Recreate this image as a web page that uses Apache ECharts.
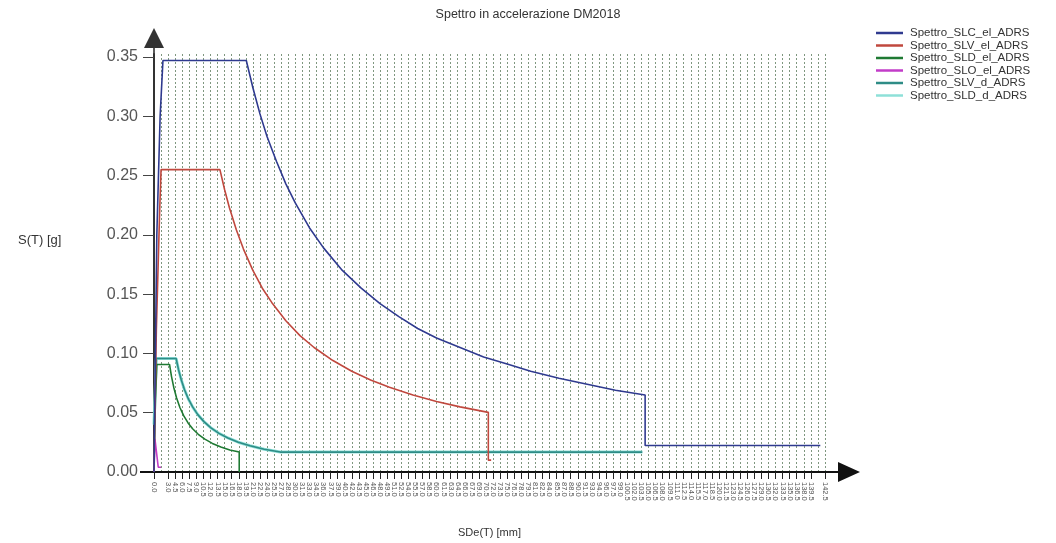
<!DOCTYPE html>
<html>
<head>
<meta charset="utf-8">
<script src="https://cdn.jsdelivr.net/npm/echarts@6/dist/echarts.min.js"></script>
<style>
html,body{margin:0;padding:0;background:#fff;}
#chart{width:1056px;height:543px;}
</style>
</head>
<body>
<div id="chart"></div>
<script>
// ---- data (x = SDe [mm], y = S [g]) ----
const chartTitle = "Spettro in accelerazione DM2018";
const xAxisName = "SDe(T) [mm]";
const yAxisName = "S(T) [g]";
const seriesNames = ["Spettro_SLC_el_ADRS","Spettro_SLV_el_ADRS","Spettro_SLD_el_ADRS","Spettro_SLO_el_ADRS","Spettro_SLV_d_ADRS","Spettro_SLD_d_ADRS"];
const seriesColors = ["#2f3a8f","#c0483e","#1f7a33","#c23cc8","#2e8c86","#8ee0d8"];

const slcEl = [[0,0],[0.6,0.20],[1.3,0.30],[1.9,0.347],[19.6,0.347],[21,0.324],[22.5,0.302],[24,0.283],[26,0.262],[28,0.243],[30,0.227],[33,0.206],[36,0.189],[40,0.170],[44,0.155],[48,0.142],[52,0.131],[56,0.121],[60,0.113],[65,0.105],[70,0.097],[75,0.091],[80,0.085],[86,0.079],[92,0.074],[98,0.069],[104.3,0.065],[104.3,0.0224],[141.5,0.0224]];
const slvEl = [[0,0],[0.5,0.12],[1.2,0.22],[1.5,0.255],[14.0,0.255],[15,0.238],[16,0.223],[17.5,0.204],[19,0.188],[21,0.170],[23,0.155],[25,0.143],[28,0.1275],[31,0.115],[34,0.105],[38,0.094],[42,0.085],[46,0.0776],[50,0.0714],[55,0.0649],[60,0.0595],[65,0.0549],[71.0,0.0503],[71.0,0.010],[71.6,0.010]];
const sldEl = [[0,0],[0.3,0.06],[0.6,0.0907],[3.3,0.0907],[3.7,0.0809],[4.2,0.0713],[4.8,0.0624],[5.5,0.0544],[6.3,0.0475],[7.2,0.0416],[8.2,0.0365],[9.4,0.0318],[10.8,0.0277],[12.4,0.0241],[14.2,0.0211],[16.1,0.0186],[18.1,0.0168],[18.1,0]];
const sloEl = [[0,0],[0.2,0.028],[0.5,0.028],[0.9,0.004],[1.5,0.004]];
const slvD = [[0,0.04],[0.5,0.0957],[4.7,0.0957],[5.2,0.0865],[5.8,0.0776],[6.5,0.0692],[7.3,0.0616],[8.2,0.0549],[9.3,0.0484],[10.6,0.0425],[12.1,0.0372],[13.8,0.0326],[15.7,0.0287],[17.9,0.0251],[20.4,0.0221],[23.4,0.0192],[26.8,0.0168],[103.7,0.0168]];
const sldD = [[0,0.04],[0.5,0.0957],[4.7,0.0957],[5.2,0.0865],[5.8,0.0776],[6.5,0.0692],[7.3,0.0616],[8.2,0.0549],[9.3,0.0484],[10.6,0.0425],[12.1,0.0372],[13.8,0.0326],[15.7,0.0287],[17.9,0.0251],[20.4,0.0221],[23.4,0.0192],[26.8,0.0168],[103.7,0.0168]];

const xTickStep = 1.5;
const xTickLabels = ["0.0","1.5","3.0","4.5","6.0","7.5","9.0","10.5","12.0","13.5","15.0","16.5","18.0","19.5","21.0","22.5","24.0","25.5","27.0","28.5","30.0","31.5","33.0","34.5","36.0","37.5","39.0","40.5","42.0","43.5","45.0","46.5","48.0","49.5","51.0","52.5","54.0","55.5","57.0","58.5","60.0","61.5","63.0","64.5","66.0","67.5","69.0","70.5","72.0","73.5","75.0","76.5","78.0","79.5","81.0","82.5","84.0","85.5","87.0","88.5","90.0","91.5","93.0","94.5","96.0","97.5","99.0","100.5","102.0","103.5","105.0","106.5","108.0","109.5","111.0","112.5","114.0","115.5","117.0","118.5","120.0","121.5","123.0","124.5","126.0","127.5","129.0","130.5","132.0","133.5","135.0","136.5","138.0","139.5","141.0","142.5"];
const yTicks = [0,0.05,0.10,0.15,0.20,0.25,0.30,0.35];
const yTickLabels = ["0.00","0.05","0.10","0.15","0.20","0.25","0.30","0.35"];
const yMax = 0.3525;

// ---- chart ----
const font = "'Liberation Sans', Arial, sans-serif";
const xArrow = "path://M0,0 L20,0 L20,0 Z M10,0 L20,22 L11,22 L11,35 L9,35 L9,22 L0,22 Z";
const xStart = "path://M0,0 L20,0 L20,0 Z M0,35 L20,35 L20,35 Z M9,3.5 L11,3.5 L11,17.5 L9,17.5 Z";
const yArrow = "path://M10,0 L20,20 L10.8,20 L10.8,26 L9.2,26 L9.2,20 L0,20 Z";

const allSeries = [slcEl, slvEl, sldEl, sloEl, slvD, sldD];
const drawOrder = [5,4,2,3,1,0];
const series = drawOrder.map(i => ({
  name: seriesNames[i],
  type: 'line',
  data: allSeries[i],
  showSymbol: false,
  symbol: 'none',
  color: seriesColors[i],
  lineStyle: {width: i === 5 ? 3 : 1.6, color: seriesColors[i]},
  z: i === 5 ? 2 : 3,
  animation: false
}));

const chart = echarts.init(document.getElementById('chart'), null, {renderer: 'canvas'});
chart.setOption({
  animation: false,
  backgroundColor: '#ffffff',
  title: [{
    text: chartTitle, left: 'center', top: 3,
    textStyle: {fontFamily: font, fontSize: 12.5, fontWeight: 'normal', color: '#333'}
  }, {
    text: yAxisName, left: 13, top: 229,
    textStyle: {fontFamily: font, fontSize: 13, fontWeight: 'normal', color: '#333'}
  }],
  legend: {
    orient: 'vertical', left: 871, top: 22,
    data: seriesNames,
    icon: 'rect', itemWidth: 27, itemHeight: 2.5, itemGap: 0.5,
    textStyle: {fontFamily: font, fontSize: 11.5, color: '#333', padding: [0,0,0,2]}
  },
  grid: {left: 154, right: 231, top: 54, bottom: 68, containLabel: false},
  xAxis: {
    type: 'value', min: 0, max: xTickStep * (xTickLabels.length - 1), interval: xTickStep,
    name: xAxisName, nameLocation: 'middle', nameGap: 55,
    nameTextStyle: {fontFamily: font, fontSize: 11, color: '#333'},
    axisLine: {show: true, onZero: false, lineStyle: {color: '#111', width: 2},
      symbol: [xStart, xArrow], symbolSize: [20, 35], symbolOffset: [0, 17.5]},
    axisTick: {show: true, length: 7, lineStyle: {color: '#222', width: 1}},
    axisLabel: {
      show: true, interval: 0, rotate: -90, margin: 10, fontSize: 7.5, color: '#555', fontFamily: font,
      showMinLabel: true, showMaxLabel: true, hideOverlap: false,
      formatter: v => xTickLabels[Math.round(v / xTickStep)] || ''
    },
    splitLine: {show: true, lineStyle: {color: '#7f977f', width: 1, type: [2, 2]}}
  },
  yAxis: {
    type: 'value', min: 0, max: yMax, interval: 0.05,
    axisLine: {show: true, lineStyle: {color: '#333', width: 2},
      symbol: ['none', yArrow], symbolSize: [20, 26], symbolOffset: [0, 13]},
    axisTick: {show: true, length: 11, customValues: yTicks, lineStyle: {color: '#444'}},
    axisLabel: {
      show: true, customValues: yTicks, margin: 16, fontSize: 16, color: '#555', fontFamily: font,
      formatter: v => { const k = yTicks.findIndex(t => Math.abs(t - v) < 1e-6); return k >= 0 ? yTickLabels[k] : ''; }
    },
    splitLine: {show: false}
  },
  series: series
});
</script>
</body>
</html>
